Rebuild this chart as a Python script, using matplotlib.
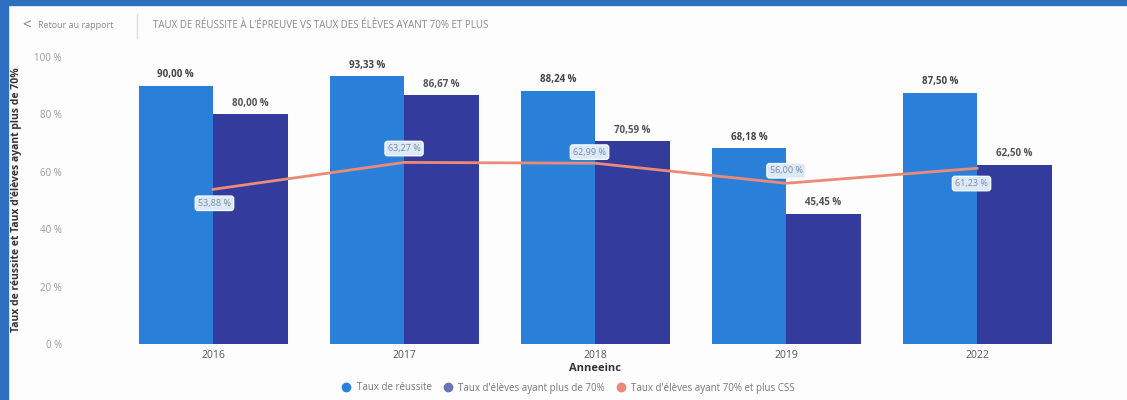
import matplotlib.pyplot as plt
from matplotlib.lines import Line2D
from matplotlib.patches import Rectangle
import numpy as np

plt.rcParams['font.family'] = ['Open Sans', 'DejaVu Sans']

annees = ["2016", "2017", "2018", "2019", "2022"]
taux_reussite = [90.00, 93.33, 88.24, 68.18, 87.50]
taux_70 = [80.00, 86.67, 70.59, 45.45, 62.50]
taux_70_css = [53.88, 63.27, 62.99, 56.00, 61.23]

c_reussite = "#2a80d8"
c_70 = "#333c9c"
c_css = "#ec8a78"

fig = plt.figure(figsize=(11.27, 4.0), dpi=100)
fig.patch.set_facecolor("#fdfdfd")

# bordure bleue (capture d'ecran)
fig.add_artist(Rectangle((0, 0), 0.007, 1, transform=fig.transFigure, color="#2f6fc0", zorder=0))
fig.add_artist(Rectangle((0, 0.988), 1, 0.012, transform=fig.transFigure, color="#2f6fc0", zorder=0))

ax = fig.add_axes([0.1043, 0.14, 0.8474, 0.7175])
ax.set_facecolor("none")

x = np.arange(len(annees))
w = 0.39
ax.bar(x - w / 2, taux_reussite, w, color=c_reussite, zorder=2)
ax.bar(x + w / 2, taux_70, w, color=c_70, zorder=2)
ax.plot(x, taux_70_css, color=c_css, lw=2, zorder=3)

for xi, v in zip(x - w / 2, taux_reussite):
    ax.annotate(f"{v:.2f} %".replace(".", ","), (xi, v), xytext=(0, 4), textcoords="offset points",
                ha="center", va="bottom", fontsize=7, color="#444444", fontweight="bold")
for xi, v in zip(x + w / 2, taux_70):
    ax.annotate(f"{v:.2f} %".replace(".", ","), (xi, v), xytext=(0, 4), textcoords="offset points",
                ha="center", va="bottom", fontsize=7, color="#555555", fontweight="bold")

css_offsets = [(1, -10), (0, 10), (-4, 8), (0, 9), (-4, -11)]
for xi, v, off in zip(x, taux_70_css, css_offsets):
    ax.annotate(f"{v:.2f} %".replace(".", ","), (xi, v), xytext=off, textcoords="offset points",
                ha="center", va="center", fontsize=6.5, color="#7a8aa0", zorder=4,
                bbox=dict(boxstyle="round,pad=0.3,rounding_size=0.3", fc="#dce9f7", ec="#f5f8fc", lw=1))

ax.set_xlim(-0.5, len(annees) - 0.5)
ax.set_ylim(0, 100)
ax.set_xticks(x)
ax.set_xticklabels(annees, fontsize=7.5, color="#555555")
ax.set_yticks([0, 20, 40, 60, 80, 100])
ax.set_yticklabels(["0 %", "20 %", "40 %", "60 %", "80 %", "100 %"], fontsize=7, color="#999999")
ax.tick_params(axis="y", length=0, pad=40)
ax.tick_params(axis="x", length=0, pad=4)
for s in ax.spines.values():
    s.set_visible(False)

ax.set_xlabel("Anneeinc", fontsize=8, fontweight="bold", color="#333333", labelpad=2)
fig.text(0.0145, 0.5, "Taux de réussite et Taux d'élèves ayant plus de 70%", rotation=90,
         ha="center", va="center", fontsize=7.5, fontweight="bold", color="#333333")

# en-tete
fig.text(0.024, 0.935, "<", fontsize=11, color="#777777", ha="center", va="center")
fig.text(0.034, 0.935, "Retour au rapport", fontsize=6.5, color="#888888", va="center")
fig.add_artist(Line2D([0.122, 0.122], [0.905, 0.965], transform=fig.transFigure, color="#dddddd", lw=1))
fig.text(0.136, 0.935, "TAUX DE RÉUSSITE À L'ÉPREUVE VS TAUX DES ÉLÈVES AYANT 70% ET PLUS",
         fontsize=7, color="#888888", va="center")

handles = [Line2D([], [], marker="o", ls="", color=c, markersize=6) for c in (c_reussite, "#6a72b8", c_css)]
labels = ["Taux de réussite", "Taux d'élèves ayant plus de 70%", "Taux d'élèves ayant 70% et plus CSS"]
fig.legend(handles, labels, loc="center", bbox_to_anchor=(0.502, 0.03), ncol=3, frameon=False,
           fontsize=7, labelcolor="#777777", handletextpad=0.1, columnspacing=0.6)

fig.savefig("out.png", dpi=100, facecolor=fig.get_facecolor())
